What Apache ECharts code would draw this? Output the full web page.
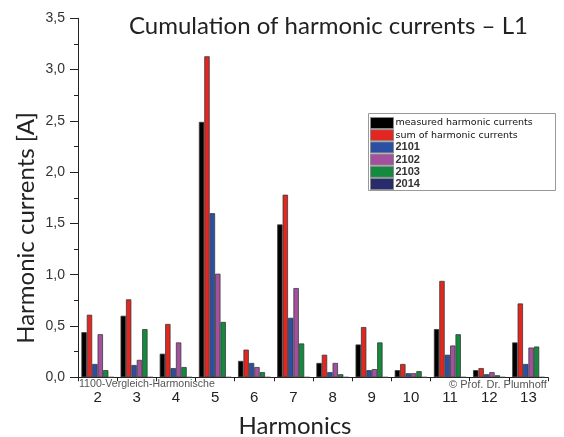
<!DOCTYPE html>
<html>
<head>
<meta charset="utf-8">
<script src="https://cdn.jsdelivr.net/npm/echarts@6/dist/echarts.min.js"></script>
<style>
  html, body { margin: 0; padding: 0; background: #fff; }
  #chart { width: 564px; height: 437px; }
</style>
</head>
<body>
<div id="chart"></div>
<script>
// Harmonic order on the x axis
const harmonics = ['2', '3', '4', '5', '6', '7', '8', '9', '10', '11', '12', '13'];

// Current per harmonic, in amperes
const measured = [0.44, 0.60, 0.23, 2.49, 0.16, 1.49, 0.14, 0.32, 0.07, 0.47, 0.07, 0.34];
const summed   = [0.61, 0.76, 0.52, 3.13, 0.27, 1.78, 0.22, 0.49, 0.13, 0.94, 0.09, 0.72];
const dev2101  = [0.13, 0.12, 0.09, 1.60, 0.14, 0.58, 0.05, 0.07, 0.04, 0.22, 0.03, 0.13];
const dev2102  = [0.42, 0.17, 0.34, 1.01, 0.10, 0.87, 0.14, 0.08, 0.04, 0.31, 0.05, 0.29];
const dev2103  = [0.07, 0.47, 0.10, 0.54, 0.05, 0.33, 0.03, 0.34, 0.06, 0.42, 0.02, 0.30];
const dev2014  = [0, 0, 0, 0, 0, 0, 0, 0, 0, 0, 0, 0];

const seriesNames = ['measured harmonic currents', 'sum of harmonic currents', '2101', '2102', '2103', '2014'];
const seriesData = [measured, summed, dev2101, dev2102, dev2103, dev2014];
const seriesColors = ['#000000', '#e3261f', '#2b4fa3', '#a3519f', '#138a3e', '#282c6c'];

// y axis ticks
const yMin = 0, yMax = 3.5, yStep = 0.5;

const chart = echarts.init(document.getElementById('chart'), null, { renderer: 'canvas' });

const series = seriesNames.map((name, i) => ({
  name: name,
  type: 'bar',
  data: seriesData[i],
  barWidth: 5.4,
  barGap: '0%',
  itemStyle: { color: seriesColors[i], borderColor: '#3a3a3a', borderWidth: 0.8 },
  emphasis: { disabled: true }
}));

const titleFont = 'Lato';

chart.setOption({
  animation: false,
  backgroundColor: '#ffffff',
  title: {
    text: 'Cumulation of harmonic currents \u2013 L1',
    left: 124, top: 9,
    textStyle: { fontFamily: titleFont, fontWeight: 'normal', fontSize: 24, color: '#222' }
  },
  grid: { left: 78, right: 16, top: 18.3, bottom: 59.7, containLabel: false, outerBoundsMode: 'none' },
  legend: {
    orient: 'vertical',
    left: 370, top: 117,
    padding: 0,
    z: 10,
    itemWidth: 23, itemHeight: 11, itemGap: 0.2,
    icon: 'rect',
    selectedMode: false,
    textStyle: { fontFamily: 'DejaVu Sans', fontSize: 9.5, lineHeight: 11, color: '#111', padding: [0, 0, 0, -3] },
    data: seriesNames.map((n, i) => ({
      name: n,
      itemStyle: { color: seriesColors[i], borderColor: '#8a8a8a', borderWidth: 1 },
      textStyle: i >= 2 ? { fontFamily: 'Liberation Sans', fontWeight: 'bold', fontSize: 11, lineHeight: 11, color: '#333' } : {}
    }))
  },
  xAxis: {
    type: 'category',
    data: harmonics,
    axisLine: { lineStyle: { color: '#222', width: 1 } },
    axisTick: { show: true, length: 4, lineStyle: { color: '#222' } },
    axisLabel: { fontFamily: 'Liberation Sans', fontSize: 15, color: '#222', margin: 13 },
    splitLine: { show: false }
  },
  yAxis: {
    type: 'value',
    min: yMin, max: yMax, interval: yStep,
    axisLine: { show: true, lineStyle: { color: '#222', width: 1 } },
    axisTick: { show: true, length: 8, lineStyle: { color: '#222' } },
    minorTick: { show: true, splitNumber: 2, length: 4, lineStyle: { color: '#222' } },
    axisLabel: {
      fontFamily: 'Liberation Sans', fontSize: 14, color: '#333', margin: 13,
      formatter: v => v.toFixed(1).replace('.', ',')
    },
    splitLine: { show: false }
  },
  graphic: [
    {
      type: 'rect', z: 1,
      shape: { x: 368.5, y: 113.5, width: 187, height: 77 },
      style: { fill: '#ffffff', stroke: '#999', lineWidth: 1 }
    },
    {
      type: 'text', z: 10,
      x: 26, y: 228, rotation: Math.PI / 2,
      style: {
        text: 'Harmonic currents [A]', font: '24px ' + titleFont, fill: '#222',
        textAlign: 'center', textVerticalAlign: 'middle'
      }
    },
    {
      type: 'text', z: 10,
      x: 295, y: 426,
      style: {
        text: 'Harmonics', font: '24px ' + titleFont, fill: '#222',
        textAlign: 'center', textVerticalAlign: 'middle'
      }
    },
    {
      type: 'text', left: 79, top: 379, z: 10,
      style: { text: '1100-Vergleich-Harmonische', font: '10.6px "Liberation Sans"', fill: '#555' }
    },
    {
      type: 'text', left: 449, top: 379, z: 10,
      style: { text: '\u00a9 Prof. Dr. Plumhoff', font: '11px "Liberation Sans"', fill: '#555' }
    }
  ],
  series: series
});
</script>
</body>
</html>
